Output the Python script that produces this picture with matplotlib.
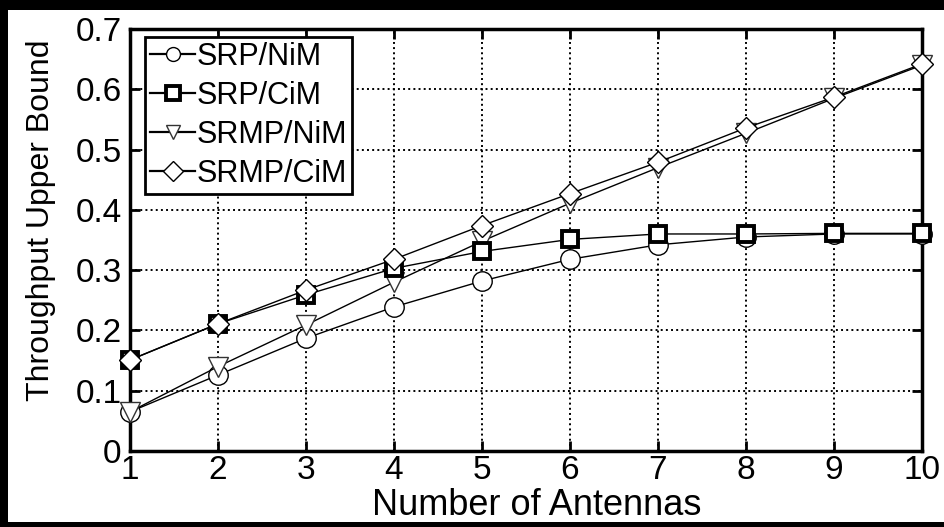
import matplotlib.pyplot as plt
from matplotlib.patches import Rectangle
from matplotlib.ticker import FormatStrFormatter

plt.rcParams['font.family'] = ['Liberation Sans', 'DejaVu Sans']

# throughput upper bound vs number of antennas
antennas = [1, 2, 3, 4, 5, 6, 7, 8, 9, 10]
srp_nim = [0.065, 0.126, 0.187, 0.239, 0.282, 0.318, 0.342, 0.355, 0.360, 0.360]
srp_cim = [0.151, 0.211, 0.259, 0.303, 0.331, 0.351, 0.360, 0.360, 0.361, 0.361]
srmp_nim = [0.065, 0.140, 0.209, 0.280, 0.348, 0.411, 0.470, 0.527, 0.585, 0.640]
srmp_cim = [0.151, 0.211, 0.267, 0.318, 0.374, 0.427, 0.479, 0.536, 0.587, 0.642]
labels = ["SRP/NiM", "SRP/CiM", "SRMP/NiM", "SRMP/CiM"]

W, H = 944, 527
fig = plt.figure(figsize=(W / 100, H / 100), dpi=100)
fig.patch.set_facecolor('white')

# black border from the scanned page (top, left, bottom)
for (x0, y0, w, h) in [(0, H - 10, W, 10), (0, 0, 8, H), (0, 0, W, 5)]:
    fig.patches.append(Rectangle((x0 / W, y0 / H), w / W, h / H, transform=fig.transFigure,
                                 facecolor='black', edgecolor='none', zorder=-1))

ax = fig.add_axes([130 / W, (H - 451) / H, 792 / W, 422 / H])

ax.plot(antennas, srp_nim, '-', color='black', lw=1.0, marker='o', ms=14,
        mfc='white', mec='black', mew=1.0, label=labels[0], clip_on=False, zorder=3)
ax.plot(antennas, srp_cim, '-', color='black', lw=1.0, marker='s', ms=12,
        mfc='white', mec='black', mew=2.8, label=labels[1], clip_on=False, zorder=4)
ax.plot(antennas, srmp_nim, '-', color='black', lw=1.0, marker='v', ms=15,
        mfc='white', mec='#333333', mew=1.0, label=labels[2], clip_on=False, zorder=3)
ax.plot(antennas, srmp_cim, '-', color='black', lw=1.0, marker='D', ms=11,
        mfc='white', mec='black', mew=1.0, label=labels[3], clip_on=False, zorder=5)

ax.set_xlim(1, 10)
ax.set_ylim(0, 0.7)
ax.set_xticks(antennas)
ax.set_yticks([0, 0.1, 0.2, 0.3, 0.4, 0.5, 0.6, 0.7])
ax.yaxis.set_major_formatter(FormatStrFormatter('%g'))
ax.grid(True, linestyle=':', color='black', lw=1.4)
ax.tick_params(direction='in', length=7, width=2, top=True, right=True, labelsize=24)
ax.tick_params(axis='x', pad=3)
ax.tick_params(axis='y', pad=6)
for s in ax.spines.values():
    s.set_linewidth(2.5)

ax.set_xlabel("Number of Antennas", fontsize=26)
ax.set_ylabel("Throughput Upper Bound", fontsize=23)
ax.xaxis.set_label_coords(0.514, -0.088)
ax.yaxis.set_label_coords(-0.093, 0.547)

leg = ax.legend(loc='upper left', bbox_to_anchor=(0.019, 0.981), borderaxespad=0,
                fontsize=22, handlelength=1.5, handletextpad=0.05, labelspacing=0.3,
                borderpad=0.15, fancybox=False, framealpha=1, edgecolor='black')
leg.get_frame().set_linewidth(2)
for line in leg.get_lines():
    line.set_markersize(10)
    line.set_linewidth(1.6)

fig.savefig("out.png", dpi=100, facecolor='white')
